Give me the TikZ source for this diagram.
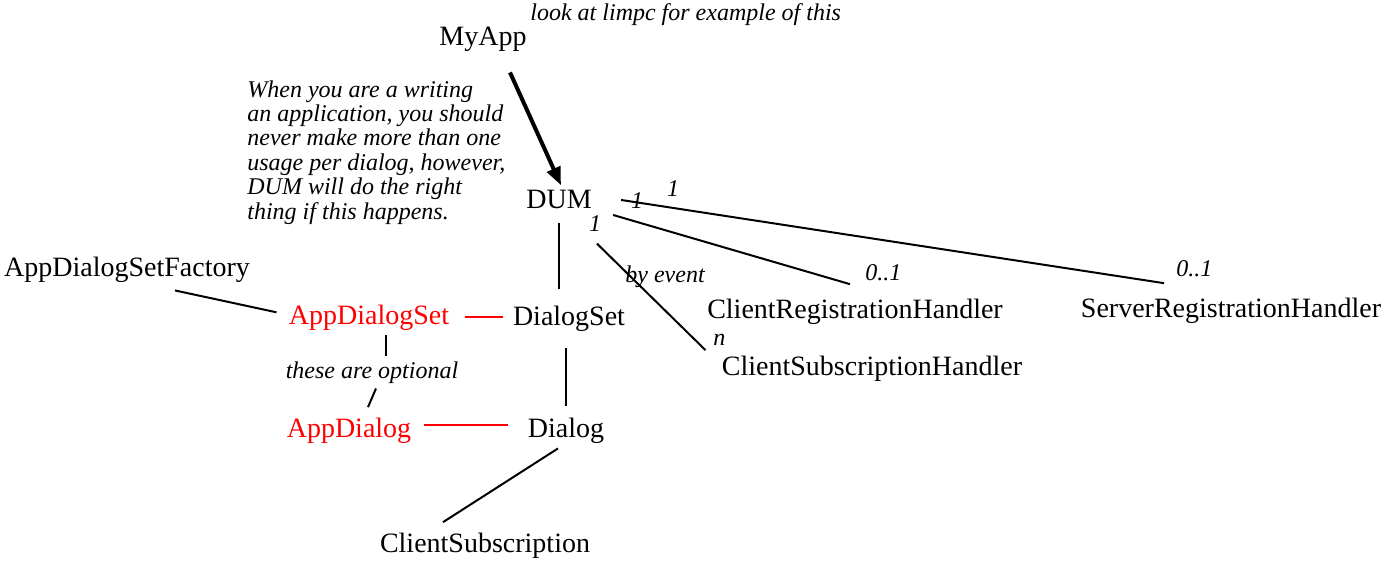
\documentclass[tikz,border=0pt]{standalone}
\usepackage{fontspec}
\setmainfont{Liberation Serif}
\usepackage{tikz}
\usetikzlibrary{arrows.meta}
\tikzstyle{cls} = [inner sep=0pt, anchor=base, font=\fontsize{14}{16}\selectfont]
\tikzstyle{appcls} = [cls, text=red]
\tikzstyle{remark} = [inner sep=0pt, font=\fontsize{12}{12.2}\selectfont\itshape]
\tikzstyle{mult} = [remark, anchor=base west]
\tikzstyle{assoc} = [line width=1pt]
\tikzstyle{appassoc} = [line width=1pt, draw=red]

\begin{document}
\begin{tikzpicture}[x=0.5pt, y=-0.5pt]
                \useasboundingbox (0,0) rectangle (1386,561);
                % classes
                \node [cls] (myapp) at (483,46) {MyApp};
                \node [cls] (dum) at (559,209) {DUM};
                \node [cls] (factory) at (127,277) {AppDialogSetFactory};
                \node [appcls] (appset) at (369,324) {AppDialogSet};
                \node [cls] (dialogset) at (569,325) {DialogSet};
                \node [appcls] (appdialog) at (349,437) {AppDialog};
                \node [cls] (dialog) at (566,437) {Dialog};
                \node [cls] (clientsub) at (485,552) {ClientSubscription};
                \node [cls] (crh) at (855,318) {ClientRegistrationHandler};
                \node [cls] (srh) at (1231,317) {ServerRegistrationHandler};
                \node [cls] (csh) at (872,375) {ClientSubscriptionHandler};
                % remarks
                \node [remark, anchor=base west] (limpc) at (530,21) {look at limpc for example of this};
                \node [remark, anchor=north west, align=left] (usage) at (247,80) {When you are a writing\\an application, you should\\never make more than one\\usage per dialog, however,\\DUM will do the right\\thing if this happens.};
                \node [remark, anchor=base] (optional) at (372,378) {these are optional};
                \node [mult] (byevent) at (625,283) {by event};
                % multiplicities
                \node [mult, anchor=base] (srhone) at (673,197) {1};
                \node [mult, anchor=base] (crhone) at (637,209) {1};
                \node [mult, anchor=base] (cshone) at (595,232) {1};
                \node [mult] (crhmult) at (865,280) {0..1};
                \node [mult] (srhmult) at (1176,277) {0..1};
                \node [mult] (cshmult) at (713,345) {n};
                % connectors
                \draw [line width=2pt, -{Triangle[length=9pt,width=7pt]}] ([shift={(27,20)}]myapp.south) -- ([shift={(2,-5)}]dum.north);
                \draw [assoc] ([shift={(0,13)}]dum.south) -- ([shift={(-10,-16)}]dialogset.north);
                \draw [assoc] ([shift={(29,0)}]dum.east) -- ([shift={(-67,-14)}]srh.north);
                \draw [assoc] ([shift={(21,15)}]dum.east) -- ([shift={(-5,-14)}]crh.north);
                \draw [assoc] ([shift={(38,34)}]dum.south) -- ([shift={(-16,-5)}]csh.north west);
                \draw [assoc] ([shift={(48,7)}]factory.south) -- ([shift={(-12,-5)}]appset.west);
                \draw [appassoc] ([shift={(15,0)}]appset.east) -- ([shift={(-10,-1)}]dialogset.west);
                \draw [assoc] ([shift={(17,5)}]appset.south) -- ([shift={(14,-5)}]optional.north);
                \draw [assoc] ([shift={(4,5)}]optional.south) -- ([shift={(19,-10)}]appdialog.north);
                \draw [assoc] ([shift={(-3,17)}]dialogset.south) -- ([shift={(0,-11)}]dialog.north);
                \draw [appassoc] ([shift={(12,-5)}]appdialog.east) -- ([shift={(-20,-5)}]dialog.west);
                \draw [assoc] ([shift={(-8,5)}]dialog.south) -- ([shift={(-42,-10)}]clientsub.north);
            \end{tikzpicture}
\end{document}
